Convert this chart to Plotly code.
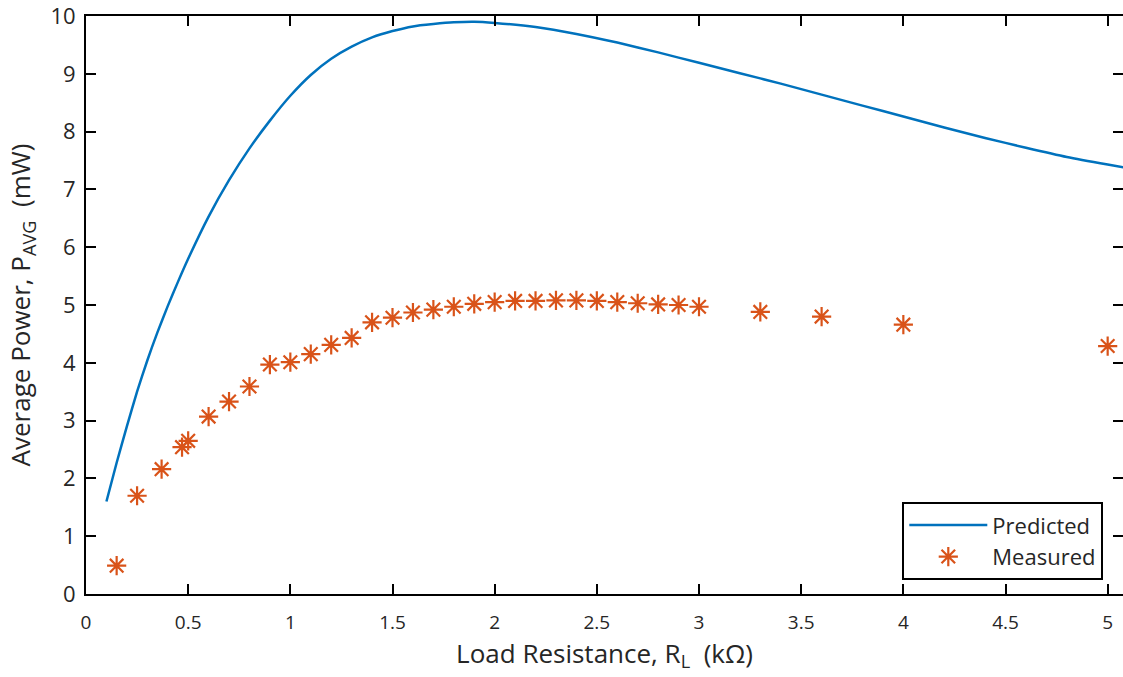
import plotly.graph_objects as go

# Predicted curve
pred_r = [0.1, 0.15, 0.2, 0.25, 0.3, 0.35, 0.4, 0.45, 0.5, 0.6, 0.7, 0.8, 0.9, 1.0,
          1.1, 1.2, 1.3, 1.4, 1.5, 1.6, 1.7, 1.8, 1.9, 2.0, 2.2, 2.4, 2.6, 2.8,
          3.0, 3.2, 3.4, 3.6, 3.8, 4.0, 4.2, 4.4, 4.6, 4.8, 5.0, 5.1]
pred_p = [1.60, 2.27, 2.90, 3.50, 4.04, 4.53, 4.98, 5.40, 5.80, 6.53, 7.16, 7.71, 8.19, 8.62,
          8.98, 9.26, 9.47, 9.63, 9.74, 9.82, 9.86, 9.89, 9.90, 9.88, 9.81, 9.69, 9.54, 9.37,
          9.19, 9.01, 8.83, 8.64, 8.45, 8.26, 8.07, 7.89, 7.72, 7.56, 7.43, 7.37]

# Measured points
meas_r = [0.15, 0.25, 0.37, 0.47, 0.5, 0.6, 0.7, 0.8, 0.9, 1.0, 1.1, 1.2, 1.3, 1.4,
          1.5, 1.6, 1.7, 1.8, 1.9, 2.0, 2.1, 2.2, 2.3, 2.4, 2.5, 2.6, 2.7, 2.8,
          2.9, 3.0, 3.3, 3.6, 4.0, 5.0]
meas_p = [0.49, 1.70, 2.16, 2.54, 2.65, 3.07, 3.33, 3.59, 3.97, 4.01, 4.15, 4.31, 4.43, 4.70,
          4.78, 4.87, 4.92, 4.97, 5.02, 5.05, 5.07, 5.07, 5.08, 5.08, 5.07, 5.05, 5.03, 5.01,
          5.00, 4.97, 4.88, 4.80, 4.66, 4.29]

x_ticks = [0, 0.5, 1, 1.5, 2, 2.5, 3, 3.5, 4, 4.5, 5]
x_tick_text = ["0", "0.5", "1", "1.5", "2", "2.5", "3", "3.5", "4", "4.5", "5"]
y_ticks = [0, 1, 2, 3, 4, 5, 6, 7, 8, 9, 10]

X_RANGE = [0, 5.075]
Y_RANGE = [0, 10]

FONT = "Open Sans"
TXT = "#262626"

fig = go.Figure()
fig.add_trace(go.Scatter(
    x=pred_r, y=pred_p, mode="lines", name="Predicted",
    line=dict(color="#0072BD", width=2.5, shape="spline", smoothing=0.6),
))
fig.add_trace(go.Scatter(
    x=meas_r, y=meas_p, mode="markers", name="Measured",
    marker=dict(symbol="asterisk-open", size=16, color="#D95319",
                line=dict(color="#D95319", width=2.2)),
))
# invisible trace on the top/right axes (they only carry the box line and mirrored ticks)
fig.add_trace(go.Scatter(x=[meas_r[0]], y=[meas_p[0]], xaxis="x2", yaxis="y2", mode="markers",
                         marker=dict(opacity=0), showlegend=False, hoverinfo="skip"))

fig.update_layout(
    width=1123, height=677,
    margin=dict(l=86, r=0, t=14, b=83),
    paper_bgcolor="white", plot_bgcolor="white",
    font=dict(family=FONT, size=20, color=TXT),
    xaxis=dict(range=X_RANGE, tickvals=x_ticks, ticktext=x_tick_text,
               showline=True, linecolor="black", linewidth=2,
               ticks="inside", ticklen=10, tickwidth=2, tickcolor="black",
               showgrid=False, zeroline=False, ticklabelstandoff=10,
               tickfont=dict(family=FONT, size=19, color=TXT),
               title=dict(text="Load Resistance, R<sub>L</sub>  (kΩ)",
                          font=dict(family=FONT, size=26, color=TXT), standoff=0)),
    yaxis=dict(range=Y_RANGE, tickvals=y_ticks,
               showline=True, linecolor="black", linewidth=2,
               ticks="inside", ticklen=10, tickwidth=2, tickcolor="black",
               showgrid=False, zeroline=False, ticklabelstandoff=4,
               ticklabeloverflow="allow",
               tickfont=dict(family=FONT, size=22, color=TXT),
               title=dict(text="Average Power, P<sub>AVG</sub>  (mW)",
                          font=dict(family=FONT, size=26, color=TXT), standoff=12)),
    xaxis2=dict(range=X_RANGE, tickvals=x_ticks, overlaying="x", side="top", anchor="y2",
                showline=True, linecolor="black", linewidth=2,
                ticks="inside", ticklen=10, tickwidth=2, tickcolor="black",
                showticklabels=False, showgrid=False, zeroline=False),
    yaxis2=dict(range=Y_RANGE, tickvals=y_ticks, overlaying="y", side="right", anchor="x2",
                showline=False, ticks="inside", ticklen=10, tickwidth=2,
                tickcolor="black", showticklabels=False, showgrid=False, zeroline=False),
    legend=dict(x=0.981, y=0.024, xanchor="right", yanchor="bottom",
                bgcolor="white", bordercolor="black", borderwidth=2,
                font=dict(family=FONT, size=22, color=TXT),
                itemwidth=78, tracegroupgap=0),
    showlegend=True,
)

fig.write_html("out.html")
